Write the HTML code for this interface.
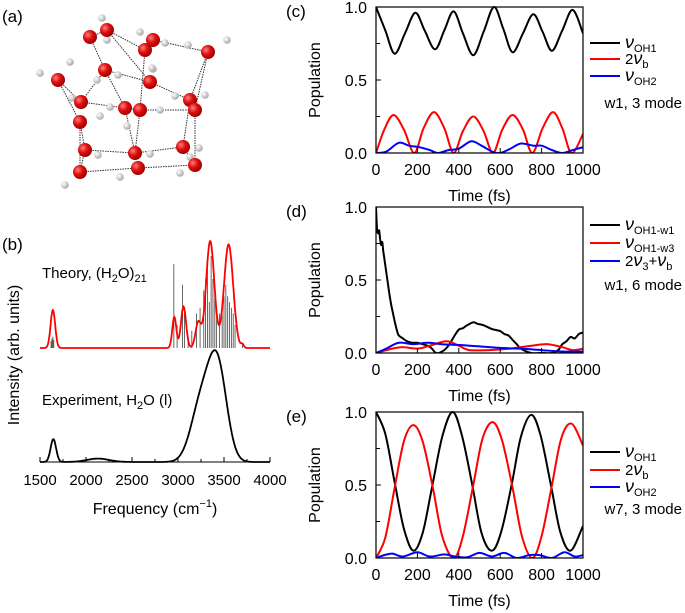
<!DOCTYPE html>
<html><head><meta charset="utf-8"><style>
html,body{margin:0;padding:0;background:#fff;}
svg{display:block;font-family:"Liberation Sans",Arial,sans-serif;}
</style></head><body>
<svg id="fig" width="685" height="613" viewBox="0 0 685 613" xmlns="http://www.w3.org/2000/svg">
<g id="mol"></g>
<g id="panelB"></g>
<g id="panelC"></g>
<g id="panelD"></g>
<g id="panelE"></g>
</svg>
<script>
// ---------- panel (c) data ----------
const cBlackT=[0,45,90,140,190,235,285,330,375,420,470,520,570,615,660,710,760,805,850,900,950,1000];
const cBlackV=[1.0,.84,.68,.82,.96,.84,.71,.84,.97,.82,.67,.83,1.0,.85,.69,.82,.95,.83,.70,.84,.98,.82];
const cRedT=[0,40,85,135,185,230,280,330,375,420,470,520,565,610,660,710,755,805,855,900,945,1000];
const cRedV=[0,.16,.26,.16,0,.17,.28,.17,0,.15,.25,.15,0,.16,.26,.16,0,.17,.28,.17,0,.13];
const cBlueT=[0,50,110,160,210,260,300,350,400,460,510,560,600,650,700,760,800,850,900,950,1000];
const cBlueV=[0,.01,.07,.05,.04,.02,0,.02,.03,.08,.05,.01,0,.03,.065,.05,.05,.02,0,.02,.04];
// ---------- panel (d) data ----------
const dBlackT=[0,5,10,15,20,25,30,35,40,45,55,65,75,90,100,110,130,150,175,200,225,250,270,290,320,350,380,400,420,440,470,490,520,550,570,600,620,640,660,680,700,750,800,850,880,900,920,940,960,980,1000];
const dBlackV=[1.0,.85,.82,.84,.78,.74,.76,.7,.65,.6,.5,.4,.32,.22,.16,.12,.1,.08,.07,.07,.06,.05,.03,0,.01,.05,.12,.16,.17,.19,.21,.2,.19,.17,.16,.15,.13,.12,.09,.06,.03,0,0,0,.02,.06,.08,.11,.1,.13,.14];
const dRedT=[0,50,120,200,260,340,400,450,550,650,750,830,900,950,1000];
const dRedV=[0,.02,.04,.03,.05,.08,.05,.02,.02,.03,.05,.06,.04,.02,.03];
const dBlueT=[0,50,110,180,250,320,400,500,600,700,800,900,1000];
const dBlueV=[0,.03,.07,.06,.07,.06,.055,.045,.035,.03,.02,.01,.01];
// ---------- panel (e) data ----------
const eBlackT=[0,45,90,135,180,225,270,320,370,415,465,510,560,605,655,700,750,795,845,890,940,1000];
const eBlackV=[1,.85,.52,.2,.05,.17,.48,.83,1.0,.84,.5,.17,.05,.18,.5,.83,.98,.84,.5,.18,.05,.22];
const eRedT=[0,45,90,135,180,225,275,320,375,420,470,515,565,610,660,705,755,800,850,895,945,1000];
const eRedV=[0,.14,.48,.8,.91,.8,.48,.15,0,.15,.5,.82,.93,.8,.48,.15,0,.15,.5,.82,.92,.77];
const eBlueT=[0,40,80,130,200,260,330,380,440,500,560,620,680,740,790,850,910,960,1000];
const eBlueV=[0,.02,.03,.01,.04,.01,.025,.01,.005,.035,.01,.035,0,.02,.02,0,.04,.01,.02];
const timeTicks=[0,200,400,600,800,1000];
const popTicks=[0,0.5,1.0];
// ---------- panel (b) data ----------
const theoCenters=[1640,2960,3060,3220,3350,3550,3700];
const theoHeights=[.33,.27,.36,.22,.93,.9,.03];
const theoWidths=[25,22,28,30,45,50,15];
const stickFreq=[1620,1630,1640,1650,2955,2990,3050,3070,3110,3150,3200,3240,3280,3300,3320,3340,3360,3380,3400,3420,3450,3480,3500,3520,3540,3560,3580,3600,3620,3700];
const stickHeight=[.06,.08,.1,.07,.73,.2,.55,.3,.1,.15,.3,.35,.5,.6,.75,.4,.8,.6,.5,.35,.3,.3,.45,.55,.45,.4,.35,.3,.2,.03];
const expCenters=[1645,2130,3250,3430];
const expHeights=[.2,.03,.5,.82];
const expWidths=[30,120,110,100];
const freqTicks=[1500,2000,2500,3000,3500,4000];

const NS="http://www.w3.org/2000/svg";
function mk(parent,tag,attrs){const e=document.createElementNS(NS,tag);for(const k in attrs)e.setAttribute(k,attrs[k]);parent.appendChild(e);return e;}
function smooth(pts){let d="M"+pts[0][0].toFixed(1)+","+pts[0][1].toFixed(1);
 for(let i=0;i<pts.length-1;i++){const p0=pts[i-1]||pts[i],p1=pts[i],p2=pts[i+1],p3=pts[i+2]||p2;
  const c1=[p1[0]+(p2[0]-p0[0])/6,p1[1]+(p2[1]-p0[1])/6],c2=[p2[0]-(p3[0]-p1[0])/6,p2[1]-(p3[1]-p1[1])/6];
  d+="C"+c1[0].toFixed(1)+","+c1[1].toFixed(1)+" "+c2[0].toFixed(1)+","+c2[1].toFixed(1)+" "+p2[0].toFixed(1)+","+p2[1].toFixed(1);}
 return d;}

function popPanel(g,top,label,series,legend,note,showXTitle){
 const L=376,R=583,B=top+146;
 const xs=t=>L+(t/1000)*(R-L), ys=v=>B-v*(B-top);
 let t=mk(g,"text",{x:286,y:top+10,"font-size":17});t.textContent=label;
 
 
 const cid="clip"+top;const cp=mk(g,"clipPath",{id:cid});mk(cp,"rect",{x:L,y:top-2,width:R-L,height:B-top+2});
 series.forEach(s=>{const p=mk(g,"path",{d:smooth(s.t.map((tt,i)=>[xs(tt),ys(s.v[i])])),fill:"none",stroke:s.c,"stroke-width":2,"clip-path":"url(#"+cid+")"});
  
  });
 const fr=mk(g,"rect",{x:L,y:top,width:R-L,height:B-top,fill:"none",stroke:"#000","stroke-width":1.2});
 
 
 popTicks.forEach(v=>{mk(g,"line",{x1:L,x2:L+5,y1:ys(v),y2:ys(v),stroke:"#000"});
  const tx=mk(g,"text",{x:367,y:ys(v)+6,"font-size":16,"text-anchor":"end"});tx.textContent=v.toFixed(1);
  
  });
 [0.25,0.75].forEach(v=>mk(g,"line",{x1:L,x2:L+4,y1:ys(v),y2:ys(v),stroke:"#000"}));
 timeTicks.forEach(v=>{mk(g,"line",{x1:xs(v),x2:xs(v),y1:B,y2:B-5,stroke:"#000"});
  const tx=mk(g,"text",{x:xs(v),y:B+22,"font-size":16,"text-anchor":"middle"});tx.textContent=v;
  
  });
 const yl=mk(g,"text",{x:0,y:0,"font-size":16,"text-anchor":"middle",transform:"translate(320,"+((top+B)/2)+") rotate(-90)"});yl.textContent="Population";
 
 
 if(showXTitle){const xl=mk(g,"text",{x:(L+R)/2,y:B+48,"font-size":16,"text-anchor":"middle"});xl.textContent="Time (fs)";
  
  }
 legend.forEach((l,i)=>{const y=l.y;mk(g,"line",{x1:590,x2:620,y1:y,y2:y,stroke:l.c,"stroke-width":2});
  const tx=mk(g,"text",{x:625,y:y+5,"font-size":15});tx.innerHTML=l.html;
  
  });
 const nt=mk(g,"text",{x:682,y:note.y,"font-size":15,"text-anchor":"end"});nt.textContent=note.text;
 
 
}
const nu=(sub)=>'<tspan font-style="italic" font-size="18">ν</tspan><tspan font-size="11" dy="4">'+sub+'</tspan>';
const twoNuB='2<tspan font-style="italic" font-size="18">ν</tspan><tspan font-size="11" dy="4">b</tspan>';
popPanel(document.getElementById('panelC'),7,"(c)",[
 {t:cBlackT,v:cBlackV,c:"#000",name:"series-nu-oh1"},{t:cRedT,v:cRedV,c:"#f00",name:"series-2nu-b"},{t:cBlueT,v:cBlueV,c:"#00f",name:"series-nu-oh2"}],
 [{y:43,c:"#000",html:nu("OH1")},{y:59,c:"#f00",html:twoNuB},{y:76,c:"#00f",html:nu("OH2")}],
 {y:108,text:"w1, 3 mode"},true);
popPanel(document.getElementById('panelD'),207,"(d)",[
 {t:dBlackT,v:dBlackV,c:"#000",name:"series-nu-oh1-w1"},{t:dRedT,v:dRedV,c:"#f00",name:"series-nu-oh1-w3"},{t:dBlueT,v:dBlueV,c:"#00f",name:"series-2nu3-nub"}],
 [{y:225,c:"#000",html:nu("OH1-w1")},{y:243,c:"#f00",html:nu("OH1-w3")},{y:261,c:"#00f",html:'2<tspan font-style="italic" font-size="18">ν</tspan><tspan font-size="11" dy="4">3</tspan><tspan dy="-4">+</tspan><tspan font-style="italic" font-size="18">ν</tspan><tspan font-size="11" dy="4">b</tspan>'}],
 {y:290,text:"w1, 6 mode"},true);
popPanel(document.getElementById('panelE'),412,"(e)",[
 {t:eBlackT,v:eBlackV,c:"#000",name:"series-nu-oh1"},{t:eRedT,v:eRedV,c:"#f00",name:"series-2nu-b"},{t:eBlueT,v:eBlueV,c:"#00f",name:"series-nu-oh2"}],
 [{y:452,c:"#000",html:nu("OH1")},{y:470,c:"#f00",html:twoNuB},{y:487,c:"#00f",html:nu("OH2")}],
 {y:514,text:"w7, 3 mode"},true);

// ---------- panel (b) ----------
(function(){
 const g=document.getElementById('panelB');
 const fx=f=>40+(f-1500)*0.092;
 const TB=348,TS=115,EB=462,ES=114;
 const gs=(f,C,H,W)=>C.reduce((s,c,i)=>s+H[i]*Math.exp(-0.5*((f-c)/W[i])**2),0);
 let t=mk(g,"text",{x:2,y:250,"font-size":17});t.textContent="(b)";
 
 
 stickFreq.forEach((f,i)=>{const l=mk(g,"line",{x1:fx(f),x2:fx(f),y1:TB,y2:TB-stickHeight[i]*TS,stroke:"#444","stroke-width":0.8});
  
  });
 let d="",d2="";
 for(let f=1500;f<=4000;f+=5){d+=(f==1500?"M":"L")+fx(f).toFixed(1)+","+(TB-TS*gs(f,theoCenters,theoHeights,theoWidths)).toFixed(1);
  d2+=(f==1500?"M":"L")+fx(f).toFixed(1)+","+(EB-ES*gs(f,expCenters,expHeights,expWidths)).toFixed(1);}
 const p1=mk(g,"path",{d:d,fill:"none",stroke:"#f00","stroke-width":1.8});
 
 
 const p2=mk(g,"path",{d:d2,fill:"none",stroke:"#000","stroke-width":1.8});
 
 
 mk(g,"line",{x1:40,x2:270,y1:EB,y2:EB,stroke:"#000","stroke-width":1});
 for(let f=1500;f<=4000;f+=250)mk(g,"line",{x1:fx(f),x2:fx(f),y1:EB,y2:EB-(f%500?3:5),stroke:"#000"});
 freqTicks.forEach(f=>{const tx=mk(g,"text",{x:fx(f),y:EB+23,"font-size":15,"text-anchor":"middle"});tx.textContent=f;
  
  });
 const xl=mk(g,"text",{x:155,y:514,"font-size":16,"text-anchor":"middle"});xl.innerHTML='Frequency (cm<tspan font-size="11" dy="-7">−1</tspan><tspan dy="7">)</tspan>';
 
 
 const yl=mk(g,"text",{x:0,y:0,"font-size":16,"text-anchor":"middle",transform:"translate(19,355) rotate(-90)"});yl.textContent="Intensity (arb. units)";
 
 
 const a=mk(g,"text",{x:42,y:278,"font-size":15});a.innerHTML='Theory, (H<tspan font-size="11" dy="4">2</tspan><tspan dy="-4">O)</tspan><tspan font-size="11" dy="4">21</tspan>';
 
 
 const b=mk(g,"text",{x:42,y:405,"font-size":15});b.innerHTML='Experiment, H<tspan font-size="11" dy="4">2</tspan><tspan dy="-4">O (l)</tspan>';
 
 
})();

// ---------- panel (a) molecule ----------
(function(){
 const g=document.getElementById('mol');
 const df=mk(g,"defs",{});
 const rg=mk(df,"radialGradient",{id:"og",cx:"35%",cy:"35%",r:"65%"});mk(rg,"stop",{offset:"0","stop-color":"#ff8080"});mk(rg,"stop",{offset:"0.5","stop-color":"#e01010"});mk(rg,"stop",{offset:"1","stop-color":"#a00000"});
 const hg=mk(df,"radialGradient",{id:"hg",cx:"35%",cy:"35%",r:"65%"});mk(hg,"stop",{offset:"0","stop-color":"#fff"});mk(hg,"stop",{offset:"1","stop-color":"#aaa"});
 let t=mk(g,"text",{x:2,y:22,"font-size":17});t.textContent="(a)";
 
 
 const O=[[90,37],[107,30],[153,40],[145,50],[208,52],[58,80],[105,70],[150,82],[81,102],[125,108],[140,110],[190,100],[195,110],[80,122],[85,150],[135,153],[183,147],[195,165],[80,172],[138,168]];
 const H=[[102,18],[227,40],[40,73],[70,62],[140,32],[165,43],[188,45],[107,40],[153,69],[118,75],[97,80],[175,96],[205,95],[72,98],[110,107],[160,110],[100,116],[127,126],[199,148],[98,155],[150,154],[190,157],[120,177],[180,173],[65,185],[140,170],[152,68]];
 const bonds=[[0,6],[1,3],[3,2],[2,4],[4,12],[5,8],[6,7],[6,8],[7,11],[8,10],[10,12],[9,15],[13,14],[14,15],[15,16],[16,17],[18,19],[19,17],[10,15],[12,17],[5,13],[13,18],[3,10],[1,7],[0,1],[4,11],[11,16],[9,10],[14,18],[6,9]];
 bonds.forEach(b=>mk(g,"line",{x1:O[b[0]][0],y1:O[b[0]][1],x2:O[b[1]][0],y2:O[b[1]][1],stroke:"#333","stroke-width":1,"stroke-dasharray":"1.5,1"}));
 H.forEach(h=>{const c=mk(g,"circle",{cx:h[0],cy:h[1],r:3.8,fill:"url(#hg)"});});
 O.forEach(o=>{const c=mk(g,"circle",{cx:o[0],cy:o[1],r:7,fill:"url(#og)"});});
})();
</script>
</body></html>
